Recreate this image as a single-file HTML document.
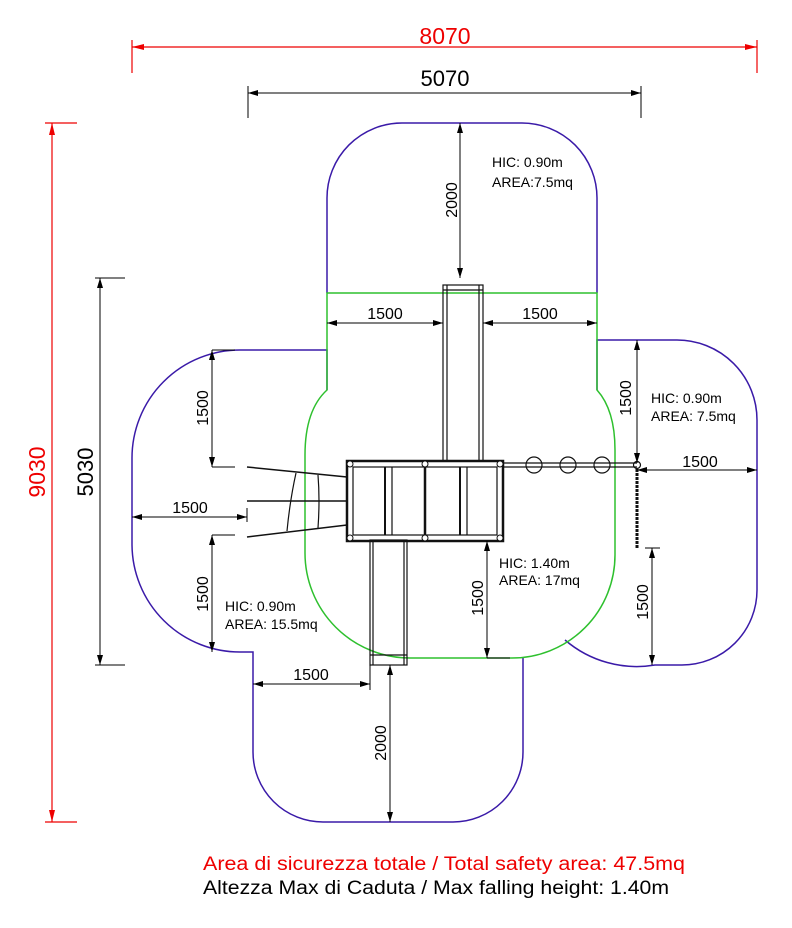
<!DOCTYPE html>
<html><head><style>body{margin:0;background:#fff}svg{display:block}text{font-family:"Liberation Sans",sans-serif}</style></head><body>
<svg width="792" height="928" viewBox="0 0 792 928" xmlns="http://www.w3.org/2000/svg">
<defs>
<marker id="a" markerWidth="10" markerHeight="6" refX="10" refY="3" orient="auto-start-reverse" markerUnits="userSpaceOnUse"><path d="M0,0L10,3L0,6z" fill="#000"/></marker>
<marker id="r" markerWidth="12" markerHeight="6" refX="12" refY="3" orient="auto-start-reverse" markerUnits="userSpaceOnUse"><path d="M0,0L12,3L0,6z" fill="#e00"/></marker>
</defs>
<g fill="none" stroke="#3a1aa8" stroke-width="1.5">
<path d="M327,293 V198 A75,75 0 0 1 402,123 H522 A75,75 0 0 1 597,198 V293"/>
<path d="M327,390 V350 H240 A108,108 0 0 0 132,458 V545 A108,108 0 0 0 240,652 H253 V752 A70,70 0 0 0 323,822 H453 A70,70 0 0 0 523,752 V658"/>
<path d="M597,390 V340 H677 A80,80 0 0 1 757,420 V590 A75,75 0 0 1 682,665 H655 A110,110 0 0 1 565,640"/>
</g>
<g fill="none" stroke="#2ec02e" stroke-width="1.5">
<path d="M327,293 H597 V390 Q615,410 615,450 V555 A103,103 0 0 1 512,658 H410 A105,105 0 0 1 305,553 V455 Q305,410 327,390 Z"/>
</g>
<g fill="none" stroke="#111" stroke-width="1.2">
<rect x="443" y="285" width="40" height="176"/>
<line x1="447" y1="285" x2="447" y2="461"/><line x1="479" y1="285" x2="479" y2="461"/>
<line x1="443" y1="290" x2="483" y2="290"/>
<rect x="370" y="540" width="37" height="125"/>
<line x1="373" y1="540" x2="373" y2="665"/><line x1="404" y1="540" x2="404" y2="665"/>
<line x1="370" y1="655" x2="407" y2="655"/>
<rect x="347" y="461" width="156" height="80" stroke-width="2.5"/>
<rect x="353" y="467" width="144" height="68"/>
<line x1="425" y1="461" x2="425" y2="541" stroke-width="2.5"/>
<line x1="385" y1="467" x2="385" y2="535" stroke-width="2"/><line x1="392" y1="467" x2="392" y2="535"/>
<line x1="460" y1="467" x2="460" y2="535" stroke-width="2"/><line x1="467" y1="467" x2="467" y2="535"/>
<line x1="247" y1="467" x2="347" y2="477" stroke-width="1.5"/>
<line x1="247" y1="501" x2="347" y2="501" stroke-width="1.5"/>
<line x1="247" y1="537" x2="347" y2="525" stroke-width="1.5"/>
<path d="M296,473 Q290,500 287,531 M318,475 Q320,500 318,528"/>
<line x1="503" y1="463" x2="637" y2="463"/><line x1="503" y1="467" x2="637" y2="467"/>
<circle cx="534" cy="465" r="8"/><circle cx="568" cy="465" r="8"/><circle cx="602" cy="465" r="8"/>
<circle cx="637" cy="465" r="3.5"/>
<line x1="637" y1="469" x2="637" y2="548" stroke-width="3" stroke-dasharray="3,1"/>
</g>
<g fill="#fff" stroke="#111"><circle cx="350" cy="464" r="3"/><circle cx="425" cy="464" r="3"/><circle cx="500" cy="464" r="3"/><circle cx="350" cy="538" r="3"/><circle cx="425" cy="538" r="3"/><circle cx="500" cy="538" r="3"/></g>
<g stroke="#e00" stroke-width="1.2" fill="none">
<line x1="132" y1="47" x2="757" y2="47" marker-start="url(#r)" marker-end="url(#r)"/>
<line x1="132" y1="40" x2="132" y2="73"/><line x1="757" y1="40" x2="757" y2="73"/>
<line x1="52" y1="123" x2="52" y2="822" marker-start="url(#r)" marker-end="url(#r)"/>
<line x1="45" y1="123" x2="77" y2="123"/><line x1="45" y1="822" x2="77" y2="822"/>
</g>
<text x="445" y="44" font-size="23" fill="#e00" text-anchor="middle">8070</text>
<text transform="translate(45,472) rotate(-90)" font-size="23" fill="#e00" text-anchor="middle">9030</text>
<g stroke="#000" stroke-width="1" fill="none">
<line x1="248" y1="93" x2="641" y2="93" marker-start="url(#a)" marker-end="url(#a)"/>
<line x1="248" y1="86" x2="248" y2="118"/><line x1="641" y1="86" x2="641" y2="118"/>
<line x1="100" y1="278" x2="100" y2="665" marker-start="url(#a)" marker-end="url(#a)"/>
<line x1="95" y1="278" x2="125" y2="278"/><line x1="95" y1="665" x2="125" y2="665"/>
<line x1="460" y1="123" x2="460" y2="278" marker-start="url(#a)" marker-end="url(#a)"/>
<line x1="327" y1="323" x2="443" y2="323" marker-start="url(#a)" marker-end="url(#a)"/>
<line x1="483" y1="323" x2="597" y2="323" marker-start="url(#a)" marker-end="url(#a)"/>
<line x1="212" y1="350" x2="212" y2="467" marker-start="url(#a)" marker-end="url(#a)"/>
<line x1="212" y1="467" x2="235" y2="467"/><line x1="212" y1="350" x2="235" y2="350"/>
<line x1="132" y1="517" x2="247" y2="517" marker-start="url(#a)" marker-end="url(#a)"/>
<line x1="247" y1="508" x2="247" y2="522"/>
<line x1="212" y1="535" x2="212" y2="652" marker-start="url(#a)" marker-end="url(#a)"/>
<line x1="212" y1="535" x2="235" y2="535"/>
<line x1="253" y1="684" x2="370" y2="684" marker-start="url(#a)" marker-end="url(#a)"/>
<line x1="370" y1="665" x2="370" y2="690"/>
<line x1="390" y1="665" x2="390" y2="822" marker-start="url(#a)" marker-end="url(#a)"/>
<line x1="487" y1="541" x2="487" y2="658" marker-start="url(#a)" marker-end="url(#a)"/>
<line x1="487" y1="658" x2="510" y2="658"/>
<line x1="637" y1="340" x2="637" y2="463" marker-start="url(#a)" marker-end="url(#a)"/>
<line x1="637" y1="470" x2="757" y2="470" marker-start="url(#a)" marker-end="url(#a)"/>
<line x1="652" y1="548" x2="652" y2="665" marker-start="url(#a)" marker-end="url(#a)"/>
<line x1="645" y1="548" x2="660" y2="548"/>
</g>
<g font-size="16" fill="#000" text-anchor="middle">
<text x="445" y="86" font-size="22">5070</text>
<text transform="translate(93,472) rotate(-90)" font-size="22">5030</text>
<text transform="translate(457,200) rotate(-90)">2000</text>
<text x="385" y="319">1500</text><text x="540" y="319">1500</text>
<text transform="translate(208,408) rotate(-90)">1500</text>
<text x="190" y="513">1500</text>
<text transform="translate(208,594) rotate(-90)">1500</text>
<text x="311" y="680">1500</text>
<text transform="translate(386,743) rotate(-90)">2000</text>
<text transform="translate(483,598) rotate(-90)">1500</text>
<text transform="translate(631,398) rotate(-90)">1500</text>
<text x="700" y="467">1500</text>
<text transform="translate(648,602) rotate(-90)">1500</text>
</g>
<g font-size="14" fill="#000">
<text x="492" y="167">HIC: 0.90m</text><text x="492" y="187">AREA:7.5mq</text>
<text x="651" y="403">HIC: 0.90m</text><text x="651" y="421">AREA: 7.5mq</text>
<text x="499" y="568">HIC: 1.40m</text><text x="499" y="585">AREA: 17mq</text>
<text x="225" y="611">HIC: 0.90m</text><text x="225" y="629">AREA: 15.5mq</text>
</g>
<text x="203" y="870" font-size="19" fill="#e00" textLength="482" lengthAdjust="spacingAndGlyphs">Area di sicurezza totale / Total safety area: 47.5mq</text>
<text x="203" y="894" font-size="19" fill="#000" textLength="466" lengthAdjust="spacingAndGlyphs">Altezza Max di Caduta / Max falling height: 1.40m</text>
</svg>
</body></html>
